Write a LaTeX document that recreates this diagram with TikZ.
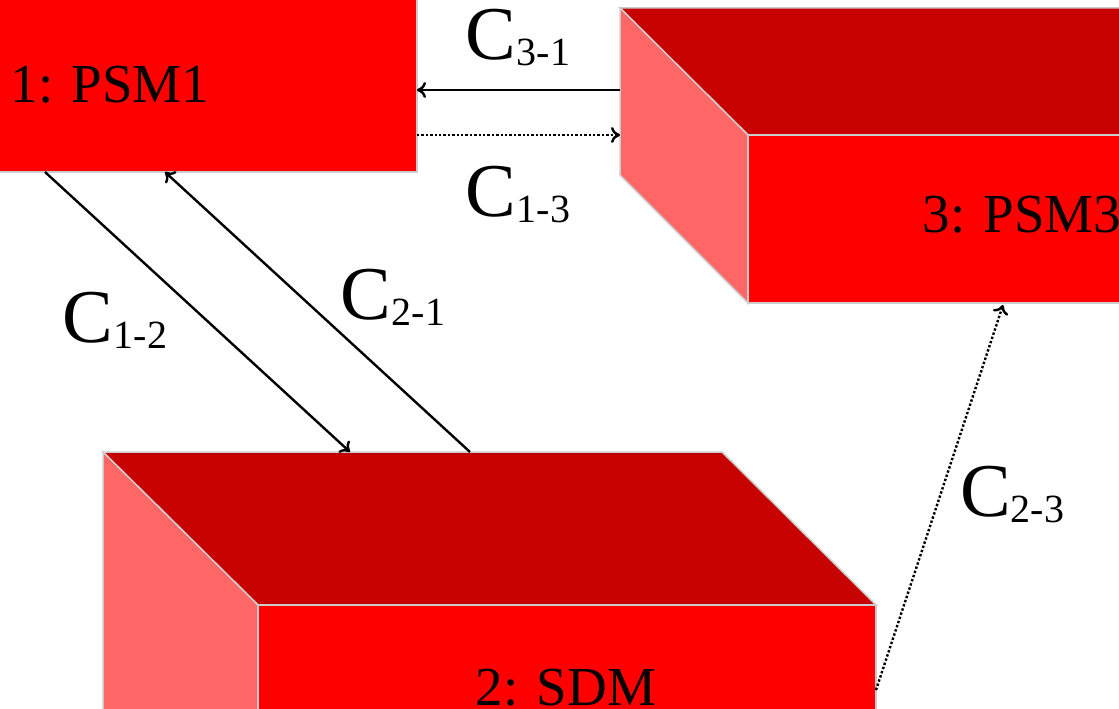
\documentclass[tikz,border=0pt]{standalone}
\usepackage{fontspec}
\setmainfont{Liberation Serif}
\usetikzlibrary{arrows.meta}
\begin{document}
\begin{tikzpicture}[x=1pt,y=-1pt,
  front/.style={fill=red,draw=black!20,line width=1.5pt},
  topf/.style={fill=red!78!black,draw=black!20,line width=1.5pt},
  side/.style={fill=red!60!white,draw=black!20,line width=1.5pt},
  conn/.style={line width=2.4pt,-{To[length=9pt,width=16pt]}},
  dconn/.style={line width=2.4pt,dotted,-{To[length=9pt,width=16pt]}},
  lab/.style={font=\fontsize{76}{76}\selectfont,inner sep=0pt},
  boxtext/.style={font=\fontsize{55}{55}\selectfont,inner sep=0pt}]
\useasboundingbox (0,0) rectangle (1119,709);
\newcommand{\Clab}[1]{C\raisebox{-6pt}{\fontsize{40}{40}\selectfont #1}}
% box 1
\draw[front] (-5,-5) rectangle (417,172);
\node[boxtext] (t1) at (110,85) {1: PSM1};
% box 3
\draw[topf] (620,8) -- (1125,8) -- (1125,135) -- (748,135) -- cycle;
\draw[side] (620,8) -- (748,135) -- (748,303) -- (620,175) -- cycle;
\draw[front] (748,135) rectangle (1125,303);
\node[boxtext] (t3) at (1022,215) {3: PSM3};
% box 2
\draw[topf] (103,452) -- (722,452) -- (876,605) -- (258,605) -- cycle;
\draw[side] (103,452) -- (258,605) -- (258,715) -- (103,715) -- cycle;
\draw[front] (258,605) rectangle (876,715);
\node[boxtext] (t2) at (566,688) {2: SDM};
% connector anchors
\coordinate (a31s) at (620,90); \coordinate (a31e) at (417,90);
\coordinate (a13s) at (417,135); \coordinate (a13e) at (620,135);
\coordinate (a12s) at (45,172); \coordinate (a12e) at (350,452);
\coordinate (a21s) at (470,452); \coordinate (a21e) at (165,172);
\coordinate (a23s) at (876,690); \coordinate (a23e) at (1003,305);
\draw[conn] (a31s) -- (a31e);
\draw[dconn] (a13s) -- (a13e);
\draw[conn] (a12s) -- (a12e);
\draw[conn] (a21s) -- (a21e);
\draw[dconn] (a23s) -- (a23e);
% labels
\node[lab] (l31) at (518,38) {\Clab{3-1}};
\node[lab] (l13) at (518,195) {\Clab{1-3}};
\node[lab] (l12) at (115,320) {\Clab{1-2}};
\node[lab] (l21) at (393,297) {\Clab{2-1}};
\node[lab] (l23) at (1012,495) {\Clab{2-3}};
\end{tikzpicture}
\end{document}
